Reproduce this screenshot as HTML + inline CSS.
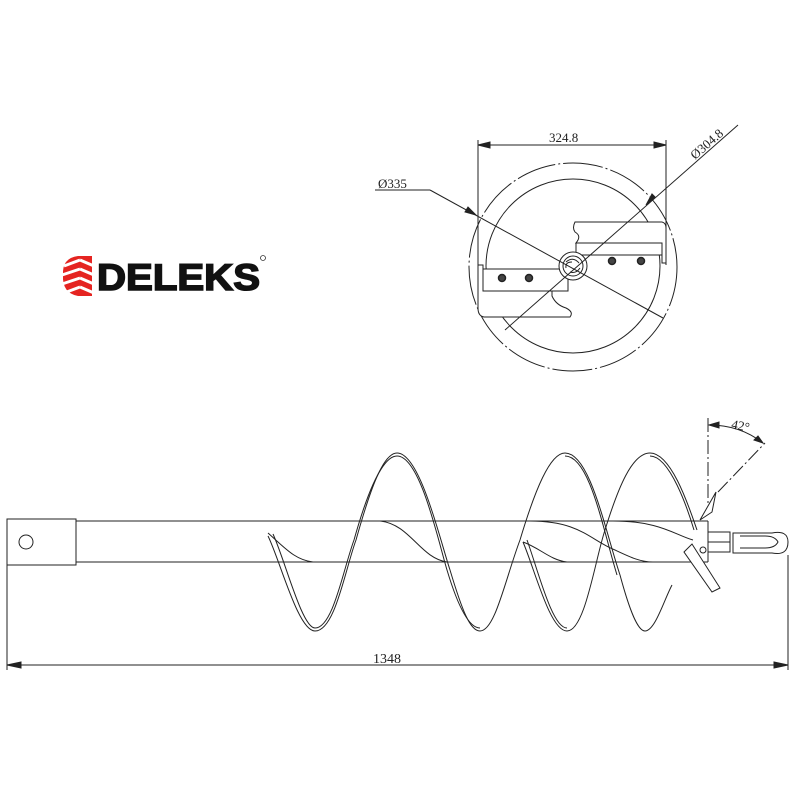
<!DOCTYPE html>
<html><head><meta charset="utf-8"><style>
html,body{margin:0;padding:0;background:#fff;}
svg{display:block;}
text{font-family:"Liberation Serif",serif;fill:#222;}
</style></head><body>
<svg width="800" height="800" viewBox="0 0 800 800" xmlns="http://www.w3.org/2000/svg">
<rect width="800" height="800" fill="#fff"/>
<!-- Logo -->
<g>
  <path d="M78 256 Q62 258 63 275 Q62 293 78 296 L92 296 L92 256 Z" fill="#e52421"/>
  <g stroke="#fff" stroke-width="3">
    <line x1="64" y1="266" x2="80" y2="260"/><line x1="80" y1="260" x2="94" y2="266"/>
    <line x1="62" y1="275" x2="80" y2="269"/><line x1="80" y1="269" x2="94" y2="275"/>
    <line x1="62" y1="284" x2="80" y2="278"/><line x1="80" y1="278" x2="94" y2="284"/>
    <line x1="64" y1="293" x2="80" y2="287"/><line x1="80" y1="287" x2="94" y2="293"/>
  </g>
  <text x="97" y="290" style="font-family:'Liberation Sans',sans-serif;font-weight:bold;font-size:37px;fill:#111;stroke:#111;stroke-width:1.6" textLength="163" lengthAdjust="spacingAndGlyphs">DELEKS</text>
  <circle cx="263" cy="258" r="2.5" fill="none" stroke="#333" stroke-width="0.8"/>
</g>
<!-- Top view -->
<g fill="none" stroke="#222" stroke-width="1">
  <circle cx="573" cy="267" r="104" stroke-dasharray="40 3 2 3"/>
  <circle cx="573" cy="266" r="87"/>
  <line x1="478" y1="140" x2="478" y2="300"/>
  <line x1="666" y1="140" x2="666" y2="265"/>
  <line x1="478" y1="145" x2="666" y2="145"/>
  <path d="M478 145 l12 -3 v6z M666 145 l-12 -3 v6z" fill="#222"/>
  <path d="M575 222 H662 Q666 223 666 228 V263 H662 V243 H576 Q582 236 575 232 Q572 228 575 222Z" fill="#fff"/>
  <path d="M576 243 H662 V255 H576Z" fill="#fff"/>
  <path d="M483 269 H568 V291 H483Z" fill="#fff"/>
  <path d="M478 265 V308 Q478 316 484 317 H570 Q574 312 566 308 Q556 305 552 296 V291 H483 V265Z" fill="#fff"/>
  <circle cx="573" cy="266" r="14" fill="#fff"/>
  <circle cx="573" cy="266" r="10"/>
  <path d="M566 262 Q573 256 579 263 M570 272 Q576 274 580 268 M566 268 Q565 262 572 262"/>
  <g stroke-width="1.5" fill="#444"><circle cx="612" cy="261" r="3.5"/><circle cx="641" cy="261" r="3.5"/><circle cx="502" cy="278" r="3.5"/><circle cx="529" cy="278" r="3.5"/></g>
  <line x1="375" y1="190" x2="430" y2="190"/>
  <line x1="430" y1="190" x2="663" y2="318"/>
  <path d="M476 215 l-11 -3 l3 -5z" fill="#222"/>
  <line x1="738" y1="125" x2="505" y2="330"/>
  <path d="M646 205 l9 -8 l-3 -3z" fill="#222"/>
</g>
<text x="549" y="142" font-size="13">324.8</text>
<text x="378" y="188" font-size="13">Ø335</text>
<text x="0" y="0" font-size="13" transform="translate(695 160) rotate(-41)">Ø304.8</text>
<!-- Side view -->
<g fill="none" stroke="#222" stroke-width="1">
  <rect x="7" y="519" width="69" height="46"/>
  <circle cx="26" cy="542" r="7"/>
  <line x1="76" y1="521" x2="708" y2="521"/>
  <line x1="76" y1="562" x2="708" y2="562"/>
  <line x1="708" y1="521" x2="708" y2="562"/>
  <path d="M268 533 C285 548 295 560 313 562"/>
  <path d="M380 521 C410 524 420 558 447 562"/>
  <path d="M523 542 C540 548 550 560 567 562"/>
  <path d="M530 521 C580 521 590 540 615 550 C630 557 640 562 653 562"/>
  <path d="M613 521 C660 521 675 535 693 540"/>
  <g>
    <path d="M268 536 C280 560 298 631 315 631 C335 631 345 570 356 540 C370 490 383 453 397 453 C420 453 440 540 450 570 C462 610 470 631 480 631 C495 631 505 580 520 540 C535 490 550 453 565 453 C590 453 605 530 620 575 C630 612 638 631 645 631 C655 631 664 600 672 585"/>
    <path d="M273 534 C285 560 302 628 315 628 C333 628 343 570 354 540 C368 490 383 456 397 456 C420 456 438 540 447 570 C459 610 470 628 480 628"/>
    <path d="M523 542 C535 570 550 631 567 631 C585 631 595 560 605 530 C618 488 632 453 650 453 C672 453 690 510 697 530"/>
    <path d="M527 540 C538 570 552 628 567 628 M650 456 C670 456 688 510 694 530 M565 456 C590 456 603 530 617 575"/>
  </g>
  <rect x="708" y="532" width="22" height="20" fill="#fff"/>
  <line x1="708" y1="542" x2="730" y2="542"/>
  <path d="M733 533 H772 Q788 530 788 542 Q788 556 772 553 H733Z" fill="#fff"/>
  <path d="M740 536 H765 Q775 536 778 542 Q775 548 765 548 H740"/>
  <path d="M700 520 L716 492 L712 512 Z" fill="#fff"/>
  <path d="M684 552 L692 544 L720 588 L712 592Z" fill="#fff"/>
  <circle cx="703" cy="550" r="3"/>
  <line x1="708" y1="418" x2="708" y2="505" stroke-dasharray="14 3 2 3"/>
  <line x1="718" y1="492" x2="765" y2="443" stroke-dasharray="14 3 2 3"/>
  <path d="M709 425 Q740 425 763 443"/>
  <path d="M709 425 l10 -3 v6z M763 443 l-9 -3 l4 -4z" fill="#222"/>
  <line x1="7" y1="565" x2="7" y2="670"/>
  <line x1="788" y1="555" x2="788" y2="670"/>
  <line x1="7" y1="665" x2="788" y2="665"/>
  <path d="M7 665 l14 -3 v6z M788 665 l-14 -3 v6z" fill="#222"/>
</g>
<text x="731" y="430" font-size="13" transform="rotate(12 740 428)">42°</text>
<text x="373" y="663" font-size="14">1348</text>
</svg>
</body></html>
